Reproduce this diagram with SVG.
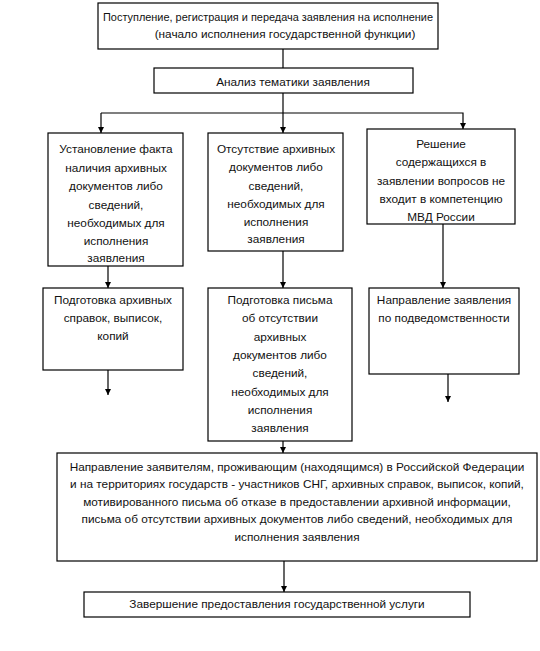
<svg xmlns="http://www.w3.org/2000/svg" width="540" height="651" viewBox="0 0 540 651">
<style>
.b{fill:#fff;stroke:#000;stroke-width:1.2}
.t{font-family:"Liberation Sans",Arial,sans-serif;font-size:11.8px;fill:#111;text-anchor:middle}
.c{stroke:#000;stroke-width:1.2;fill:none}
</style>
<defs>
<marker id="a" viewBox="0 0 6 6" refX="6" refY="3" markerWidth="6" markerHeight="6" markerUnits="userSpaceOnUse" orient="auto">
<path d="M0,0 L6,3 L0,6 Z" fill="#000"/>
</marker>
</defs>
<rect width="540" height="651" fill="#fff"/>
<g id="connectors">
<line class="c" x1="283" y1="49" x2="283" y2="68"/>
<line class="c" x1="283" y1="93" x2="283" y2="113"/>
<polyline class="c" points="101,113 463,113 463,129" marker-end="url(#a)"/>
<line class="c" x1="101" y1="113" x2="101" y2="133" marker-end="url(#a)"/>
<line class="c" x1="283" y1="113" x2="283" y2="133" marker-end="url(#a)"/>
<line class="c" x1="108" y1="266" x2="108" y2="288" marker-end="url(#a)"/>
<line class="c" x1="283" y1="251" x2="283" y2="288" marker-end="url(#a)"/>
<line class="c" x1="443" y1="224" x2="443" y2="288" marker-end="url(#a)"/>
<line class="c" x1="108" y1="370" x2="108" y2="395" marker-end="url(#a)"/>
<line class="c" x1="448" y1="370" x2="448" y2="402" marker-end="url(#a)"/>
<line class="c" x1="283" y1="441" x2="283" y2="453" marker-end="url(#a)"/>
<line class="c" x1="284" y1="561" x2="284" y2="592" marker-end="url(#a)"/>
</g>
<g id="n1">
<rect class="b" x="98" y="3" width="340" height="46"/>
<text class="t" x="268" y="21" textLength="330" lengthAdjust="spacingAndGlyphs">Поступление, регистрация и передача заявления на исполнение</text>
<text class="t" x="285" y="38">(начало исполнения государственной функции)</text>
</g>
<g id="n2">
<rect class="b" x="154" y="68" width="259" height="25"/>
<text class="t" x="293" y="86">Анализ тематики заявления</text>
</g>
<g id="n3a">
<rect class="b" x="48" y="133" width="135" height="133"/>
<text class="t" x="116" y="153">Установление факта</text>
<text class="t" x="116" y="172">наличия архивных</text>
<text class="t" x="116" y="190">документов либо</text>
<text class="t" x="116" y="209">сведений,</text>
<text class="t" x="116" y="227">необходимых для</text>
<text class="t" x="116" y="245">исполнения</text>
<text class="t" x="116" y="262">заявления</text>
</g>
<g id="n3b">
<rect class="b" x="208" y="133" width="135" height="118"/>
<text class="t" x="276" y="153">Отсутствие архивных</text>
<text class="t" x="276" y="171">документов либо</text>
<text class="t" x="276" y="190">сведений,</text>
<text class="t" x="276" y="208">необходимых для</text>
<text class="t" x="276" y="226">исполнения</text>
<text class="t" x="276" y="243">заявления</text>
</g>
<g id="n3c">
<rect class="b" x="367" y="129" width="148" height="95"/>
<text class="t" x="441" y="148">Решение</text>
<text class="t" x="441" y="166">содержащихся в</text>
<text class="t" x="441" y="185">заявлении вопросов не</text>
<text class="t" x="441" y="203">входит в компетенцию</text>
<text class="t" x="441" y="221">МВД России</text>
</g>
<g id="n4a">
<rect class="b" x="43" y="288" width="140" height="82"/>
<text class="t" x="113" y="304">Подготовка архивных</text>
<text class="t" x="113" y="322">справок, выписок,</text>
<text class="t" x="113" y="340">копий</text>
</g>
<g id="n4b">
<rect class="b" x="208" y="288" width="144" height="153"/>
<text class="t" x="280" y="304">Подготовка письма</text>
<text class="t" x="280" y="322">об отсутствии</text>
<text class="t" x="280" y="341">архивных</text>
<text class="t" x="280" y="359">документов либо</text>
<text class="t" x="280" y="377">сведений,</text>
<text class="t" x="280" y="396">необходимых для</text>
<text class="t" x="280" y="414">исполнения</text>
<text class="t" x="280" y="432">заявления</text>
</g>
<g id="n4c">
<rect class="b" x="369" y="288" width="150" height="86"/>
<text class="t" x="444" y="304">Направление заявления</text>
<text class="t" x="444" y="322">по подведомственности</text>
</g>
<g id="n5">
<rect class="b" x="57" y="453" width="480" height="108"/>
<text class="t" x="297" y="471">Направление заявителям, проживающим (находящимся) в Российской Федерации</text>
<text class="t" x="297" y="488">и на территориях государств - участников СНГ, архивных справок, выписок, копий,</text>
<text class="t" x="297" y="506">мотивированного письма об отказе в предоставлении архивной информации,</text>
<text class="t" x="297" y="523">письма об отсутствии архивных документов либо сведений, необходимых для</text>
<text class="t" x="297" y="541">исполнения заявления</text>
</g>
<g id="n6">
<rect class="b" x="84" y="592" width="386" height="25"/>
<text class="t" x="277" y="608">Завершение предоставления государственной услуги</text>
</g>
</svg>
